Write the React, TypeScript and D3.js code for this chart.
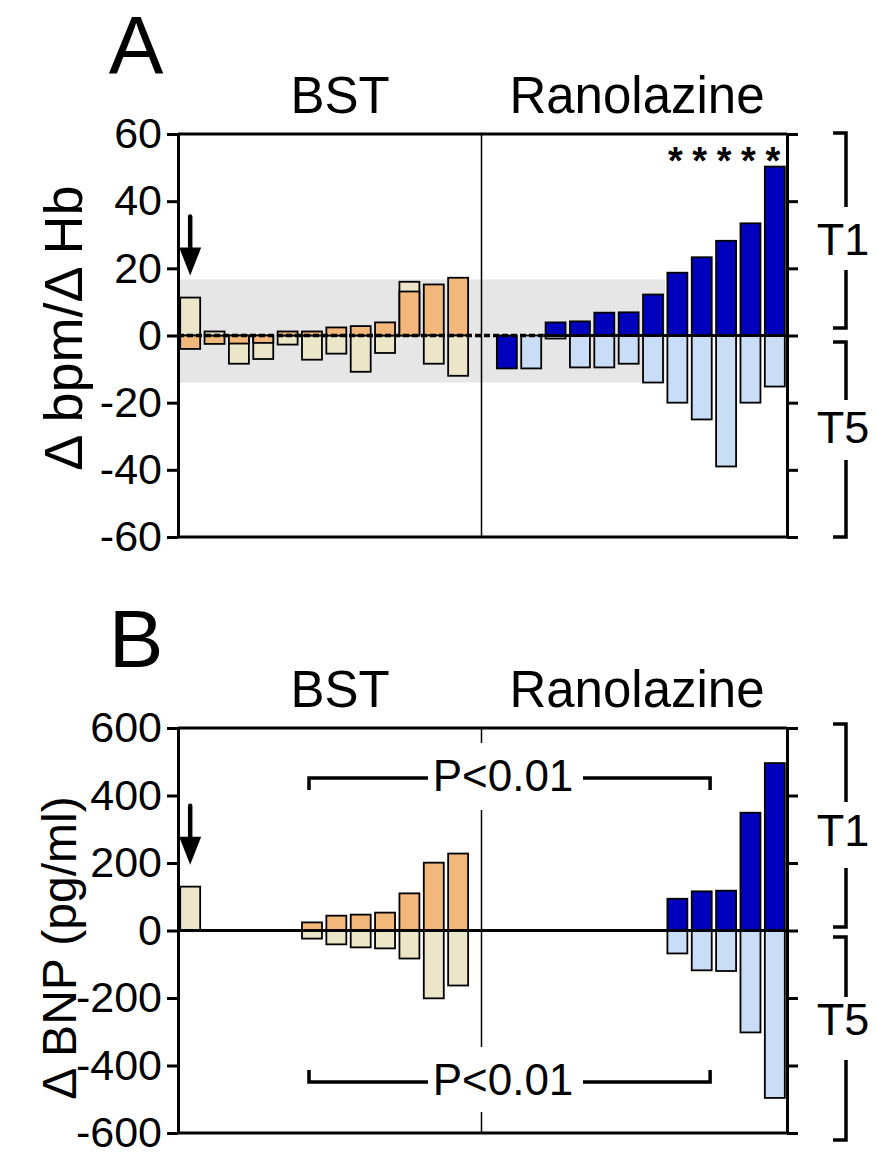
import React, { useEffect, useRef } from "react";
import * as d3 from "d3";

// 25 patient slots: 0-11 BST, 12 is the gap, 13-24 Ranolazine
const slots = d3.range(25);

// Panel A: delta bpm / delta Hb
const hrT1 = [-4, -2.5, -2.4, -2.2, 1.2, 1.2, 2.4, 2.8, 3.9, 13.1, 15.2, 17.2, null,
  -9.8, 0, 3.9, 4.2, 6.8, 6.9, 12.2, 18.7, 23.3, 28.2, 33.4, 50.3];
const hrT5 = [11.3, 1.2, -8.4, -7, -2.7, -7.2, -5.4, -10.8, -5.2, 16, -8.4, -12, null,
  0, -9.8, -0.9, -9.5, -9.5, -8.4, -14, -20, -25, -39, -20, -15.2];
const hrTicks = [60, 40, 20, 0, -20, -40, -60];
const hrBand = [16.7, -14];
const starSlots = [20, 21, 22, 23, 24];

// Panel B: delta BNP (pg/ml)
const bnpT1 = [null, null, null, null, null, 24, 44, 47, 53, 110, 201, 228, null,
  null, null, null, null, null, null, null, 94, 116, 118, 349, 496];
const bnpT5 = [130, null, null, null, null, -24, -41, -50, -53, -83, -201, -163, null,
  null, null, null, null, null, null, null, -68, -118, -120, -302, -496];
const bnpTicks = [600, 400, 200, 0, -200, -400, -600];

const groupLabels = ["BST", "Ranolazine"];

const FONT = "'Liberation Sans', Arial, Helvetica, sans-serif";
const colors = {
  bstT1: "#f2b77b",
  bstT5: "#ece6c8",
  ranT1: "#0000bd",
  ranT5: "#c9ddf6",
};

const W = 877;
const H = 1153;
const left = 178;
const right = 787;

const x = d3.scaleBand().domain(slots).range([left, right]).paddingInner(0.18).paddingOuter(0.09);

function drawPanel(svg, o) {
  const g = svg.append("g");
  const y = d3.scaleLinear().domain([o.max, -o.max]).range([o.top, o.bottom]);

  // letter and group titles
  g.append("text").attr("x", 136).attr("y", y(o.max) - 61).attr("text-anchor", "middle")
    .attr("font-size", 82).text(o.letter);
  g.append("text").attr("x", 340).attr("y", y(o.max) - 21).attr("text-anchor", "middle")
    .attr("font-size", 51).text(groupLabels[0]);
  g.append("text").attr("x", 637).attr("y", y(o.max) - 21).attr("text-anchor", "middle")
    .attr("font-size", 51).text(groupLabels[1]);

  // y label
  g.append("text")
    .attr("transform", `translate(${o.labelX}, ${o.labelY}) rotate(-90)`)
    .attr("text-anchor", "middle").attr("font-size", o.labelSize).text(o.yLabel);

  if (o.band) {
    g.append("rect").attr("x", left).attr("y", y(o.band[0]))
      .attr("width", x(20) - x.step() * x.paddingInner() / 2 - left)
      .attr("height", y(o.band[1]) - y(o.band[0])).attr("fill", "#e6e6e6");
  }

  // divider
  const divX = x(12) + x.bandwidth() / 2 - 1;
  const ys = [y(o.max), ...(o.gaps || []).flat(), y(-o.max)];
  for (let i = 0; i < ys.length; i += 2) {
    g.append("line").attr("x1", divX).attr("x2", divX).attr("y1", ys[i]).attr("y2", ys[i + 1])
      .attr("stroke", "#000").attr("stroke-width", 1.5);
  }

  // bars: larger value behind, smaller in front
  slots.forEach((s) => {
    if (s === 12) return;
    const bst = s < 12;
    const items = [
      { v: o.t1[s], c: bst ? colors.bstT1 : colors.ranT1 },
      { v: o.t5[s], c: bst ? colors.bstT5 : colors.ranT5 },
    ].filter((d) => d.v !== null && d.v !== 0)
      .sort((a, b) => Math.abs(b.v) - Math.abs(a.v));
    items.forEach((d) => {
      g.append("rect").attr("x", x(s)).attr("width", x.bandwidth())
        .attr("y", y(Math.max(0, d.v))).attr("height", Math.abs(y(d.v) - y(0)))
        .attr("fill", d.c).attr("stroke", "#000").attr("stroke-width", 1.8);
    });
  });

  // zero line
  if (o.dashedUntil !== undefined) {
    const xs = x(o.dashedUntil) - 2;
    g.append("line").attr("x1", left).attr("x2", xs).attr("y1", y(0)).attr("y2", y(0))
      .attr("stroke", "#000").attr("stroke-width", 3.5).attr("stroke-dasharray", "6,3");
    g.append("line").attr("x1", xs).attr("x2", right).attr("y1", y(0)).attr("y2", y(0))
      .attr("stroke", "#000").attr("stroke-width", 3);
  } else {
    g.append("line").attr("x1", left).attr("x2", right).attr("y1", y(0)).attr("y2", y(0))
      .attr("stroke", "#000").attr("stroke-width", 3);
  }

  // frame top/bottom
  [o.max, -o.max].forEach((v) => {
    g.append("line").attr("x1", left).attr("x2", right).attr("y1", y(v)).attr("y2", y(v))
      .attr("stroke", "#000").attr("stroke-width", 3);
  });

  // axes
  const ax = g.append("g").attr("transform", `translate(${left},0)`)
    .call(d3.axisLeft(y).tickValues(o.ticks).tickSize(11).tickSizeOuter(0).tickPadding(5)
      .tickFormat((d) => String(d)));
  const ax2 = g.append("g").attr("transform", `translate(${right},0)`)
    .call(d3.axisRight(y).tickValues(o.ticks).tickSize(11).tickSizeOuter(0).tickFormat(""));
  [ax, ax2].forEach((a) => {
    a.selectAll("path, line").attr("stroke", "#000").attr("stroke-width", 3);
    a.selectAll("text").attr("font-size", 43).attr("font-family", FONT).attr("fill", "#000");
  });

  // arrow over first patient
  const ax0 = x(0) + x.bandwidth() / 2;
  const tip = y(o.t5[0]) - 22;
  g.append("line").attr("x1", ax0).attr("x2", ax0).attr("y1", tip - 59).attr("y2", tip - 26)
    .attr("stroke", "#000").attr("stroke-width", 4.5).attr("stroke-linecap", "round");
  g.append("path").attr("d", `M${ax0 - 11},${tip - 28}L${ax0 + 11},${tip - 28}L${ax0},${tip}Z`)
    .attr("fill", "#000");

  // right brackets T1 / T5
  const bx = 846;
  o.brackets.forEach((b) => {
    const path = `M833,${b.top}H${bx}V${b.text - b.gapUp}M${bx},${b.text + b.gapDown}V${b.bottom}H833`;
    g.append("path").attr("d", path).attr("fill", "none").attr("stroke", "#000").attr("stroke-width", 3.5);
    g.append("text").attr("x", 843).attr("y", b.text + 16).attr("text-anchor", "middle")
      .attr("font-size", 45).text(b.label);
  });

  return { g, y };
}

const App = () => {
  const ref = useRef(null);

  useEffect(() => {
    const svg = d3.select(ref.current);
    svg.selectAll("*").remove();
    svg.attr("font-family", FONT);

    const a = drawPanel(svg, {
      letter: "A", top: 134, bottom: 537, max: 60, ticks: hrTicks, t1: hrT1, t5: hrT5,
      yLabel: "\u0394 bpm/\u0394 Hb", labelX: 82, labelY: 328, labelSize: 54,
      band: hrBand, dashedUntil: 15,
      brackets: [
        { top: 133, bottom: 328, text: 239, gapUp: 32, gapDown: 31, label: "T1" },
        { top: 342, bottom: 537, text: 427, gapUp: 27, gapDown: 33, label: "T5" },
      ],
    });
    starSlots.forEach((s) => {
      a.g.append("text").attr("x", x(s) + x.bandwidth() / 2 - 2).attr("y", 174)
        .attr("text-anchor", "middle").attr("font-size", 38).attr("font-weight", "bold").text("*");
    });

    const pTop = 791;
    const pBot = 1095;
    const b = drawPanel(svg, {
      letter: "B", top: 728, bottom: 1133, max: 600, ticks: bnpTicks, t1: bnpT1, t5: bnpT5,
      yLabel: "\u0394 BNP (pg/ml)", labelX: 76, labelY: 948, labelSize: 48,
      gaps: [[743, 810], [1047, 1112]],
      brackets: [
        { top: 724, bottom: 927, text: 830, gapUp: 28, gapDown: 38, label: "T1" },
        { top: 937, bottom: 1140, text: 1019, gapUp: 22, gapDown: 41, label: "T5" },
      ],
    });

    // P<0.01 comparison brackets
    const x1 = x(5) + 7;
    const x2 = x(22) - 6;
    [[pTop, 1], [pBot, -1]].forEach(([by, dir]) => {
      const hy = by - 13;
      b.g.append("path")
        .attr("d", `M${x1},${hy + dir * 12}V${hy}H428M583,${hy}H${x2}V${hy + dir * 12}`)
        .attr("fill", "none").attr("stroke", "#000").attr("stroke-width", 3.5);
      b.g.append("text").attr("x", 503).attr("y", by).attr("text-anchor", "middle")
        .attr("font-size", 44).text("P<0.01");
    });
  }, []);

  return (
    <svg ref={ref} width={W} height={H}
      style={{ position: "absolute", left: 0, top: 0, background: "#fff" }} />
  );
};

export default App;
